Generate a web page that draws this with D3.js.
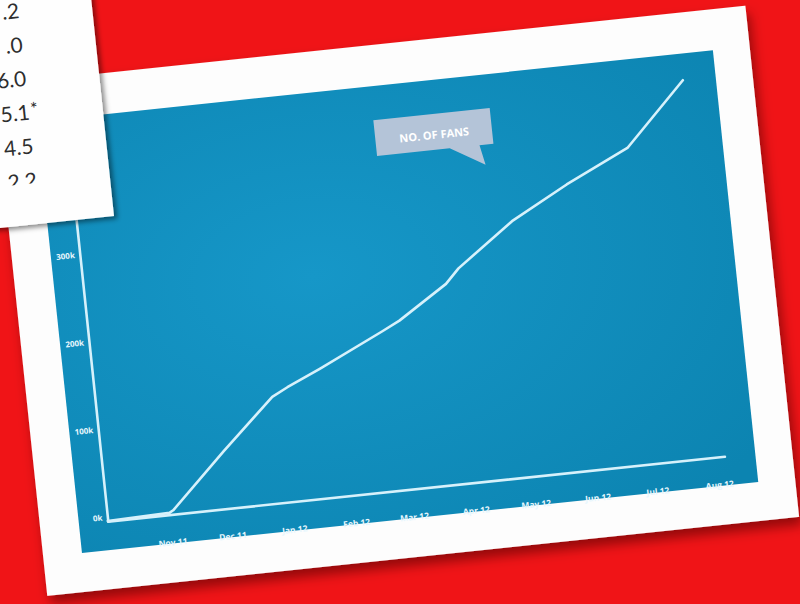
<!DOCTYPE html>
<html>
<head>
<meta charset="utf-8">
<script src="https://cdn.jsdelivr.net/npm/d3@7"></script>
<style>
html,body{margin:0;padding:0;background:#ef1519;}
svg{display:block;}
</style>
</head>
<body>
<svg id="chart" width="800" height="604"></svg>
<script>
// ---- data ----
const dates = ["2011-10-01","2011-11-01","2011-11-03","2011-12-01","2011-12-28","2012-01-05","2012-01-22","2012-02-24","2012-03-04","2012-03-29","2012-04-05","2012-05-04","2012-06-02","2012-07-04","2012-08-04"];
const fans = [0,2000,4500,65000,121000,130000,147000,182000,192000,228000,244000,291000,326000,360000,430000];
const xTickDates = ["2011-11-01","2011-12-01","2012-01-01","2012-02-01","2012-03-01","2012-04-01","2012-05-01","2012-06-01","2012-07-01","2012-08-01"];
const yTickValues = [0,100000,200000,300000];
const yTickLabels = ["0k","100k","200k","300k"];
const tableValues = [".2",".0","6.0","5.1","4.5","2.2"];
const tableMarks = ["","","","*","",""];
const bubbleText = "NO. OF FANS";

const parse = d3.timeParse("%Y-%m-%d");
const series = dates.map((d,i)=>({date:parse(d), value:fans[i]}));

const svg = d3.select("#chart");
const defs = svg.append("defs");

// background
svg.append("rect").attr("width",800).attr("height",604).attr("fill","#f01417");

const sh = defs.append("filter").attr("id","shadow").attr("x","-20%").attr("y","-20%").attr("width","140%").attr("height","140%");
sh.append("feDropShadow").attr("dx",3).attr("dy",8).attr("stdDeviation",6)
  .attr("flood-color","#4a0000").attr("flood-opacity",0.55);
const sh2 = defs.append("filter").attr("id","shadow2").attr("x","-20%").attr("y","-20%").attr("width","140%").attr("height","140%");
sh2.append("feDropShadow").attr("dx",3).attr("dy",3).attr("stdDeviation",2.5)
  .attr("flood-color","#000").attr("flood-opacity",0.45);

const grad = defs.append("radialGradient").attr("id","blueGrad")
  .attr("cx","38%").attr("cy","42%").attr("r","80%");
grad.append("stop").attr("offset","0%").attr("stop-color","#1697c8");
grad.append("stop").attr("offset","100%").attr("stop-color","#0c84b1");

// ---- main card (rotated) ----
const W = 680, H = 434;
const g = svg.append("g").attr("transform","translate(36.6,121.4) rotate(-6)");

g.append("rect").attr("x",-39).attr("y",-41).attr("width",756).attr("height",514)
  .attr("fill","#fdfdfd").attr("filter","url(#shadow)");
g.append("rect").attr("x",0).attr("y",0).attr("width",W).attr("height",H)
  .attr("fill","url(#blueGrad)");

const x = d3.scaleTime()
  .domain([parse("2011-10-01"), parse("2012-08-05")])
  .range([29, 649]);
const y = d3.scaleLinear().domain([0,450000]).range([405, 9]);

const lineColor = "#d6f1fb";

// x axis
const xAxis = d3.axisBottom(x)
  .tickValues(xTickDates.map(parse))
  .tickFormat(d3.timeFormat("%b %y"))
  .tickSize(0).tickPadding(0);
const gx = g.append("g").attr("transform",`translate(0,${y(0)})`).call(xAxis);
gx.select(".domain").attr("stroke",lineColor).attr("stroke-width",2.6).attr("stroke-linecap","round");
gx.selectAll("text").attr("fill","#e8f7fd").attr("font-family","Open Sans, sans-serif")
  .attr("font-size",8.5).attr("font-weight","bold").attr("dy",0).attr("y",31);

// y axis
const yAxis = d3.axisLeft(y)
  .tickValues(yTickValues)
  .tickFormat((d,i)=>yTickLabels[i])
  .tickSize(0).tickPadding(5);
const gy = g.append("g").attr("transform",`translate(${x(parse("2011-10-01"))},0)`).call(yAxis);
gy.select(".domain").attr("stroke",lineColor).attr("stroke-width",2.6).attr("stroke-linecap","round");
gy.selectAll("text").attr("fill","#e8f7fd").attr("font-family","Open Sans, sans-serif")
  .attr("font-size",8).attr("font-weight","bold").attr("dy","-0.2em");

// data line
const line = d3.line().x(d=>x(d.date)).y(d=>y(d.value));
g.append("path").datum(series).attr("d",line)
  .attr("fill","none").attr("stroke",lineColor).attr("stroke-width",2.6)
  .attr("stroke-linejoin","round").attr("stroke-linecap","round");

// speech bubble
g.append("path").attr("d","M335,34 H452 V70 H438 L442,90 L408,70 H335 Z")
  .attr("fill","#b4c4d8");
g.append("text").attr("x",394).attr("y",56).attr("text-anchor","middle")
  .attr("dominant-baseline","middle")
  .attr("fill","#ffffff").attr("font-family","Open Sans, sans-serif")
  .attr("font-weight","bold").attr("font-size",11).text(bubbleText);

// ---- table card (upper left) ----
const t = svg.append("g").attr("transform","translate(114,216) rotate(-6)");
defs.append("clipPath").attr("id","tclip").append("rect")
  .attr("x",-400).attr("y",-400).attr("width",400).attr("height",359);
t.append("rect").attr("x",-400).attr("y",-400).attr("width",400).attr("height",400)
  .attr("fill","#fefefe").attr("filter","url(#shadow2)");
const tg = t.append("g").attr("clip-path","url(#tclip)");
const rowY = d3.scaleLinear().domain([0,5]).range([-212,-42]);
tableValues.forEach((v,i)=>{
  tg.append("text").attr("x",-73).attr("y",rowY(i)).attr("text-anchor","end")
    .attr("dominant-baseline","middle")
    .attr("font-family","Lato, sans-serif").attr("font-size",21).attr("fill","#2e2e2e")
    .text(v);
  if (tableMarks[i]) {
    tg.append("text").attr("x",-72).attr("y",rowY(i)-3).attr("text-anchor","start")
      .attr("dominant-baseline","middle")
      .attr("font-family","Lato, sans-serif").attr("font-size",18).attr("fill","#2e2e2e")
      .text(tableMarks[i]);
  }
});
</script>
</body>
</html>
